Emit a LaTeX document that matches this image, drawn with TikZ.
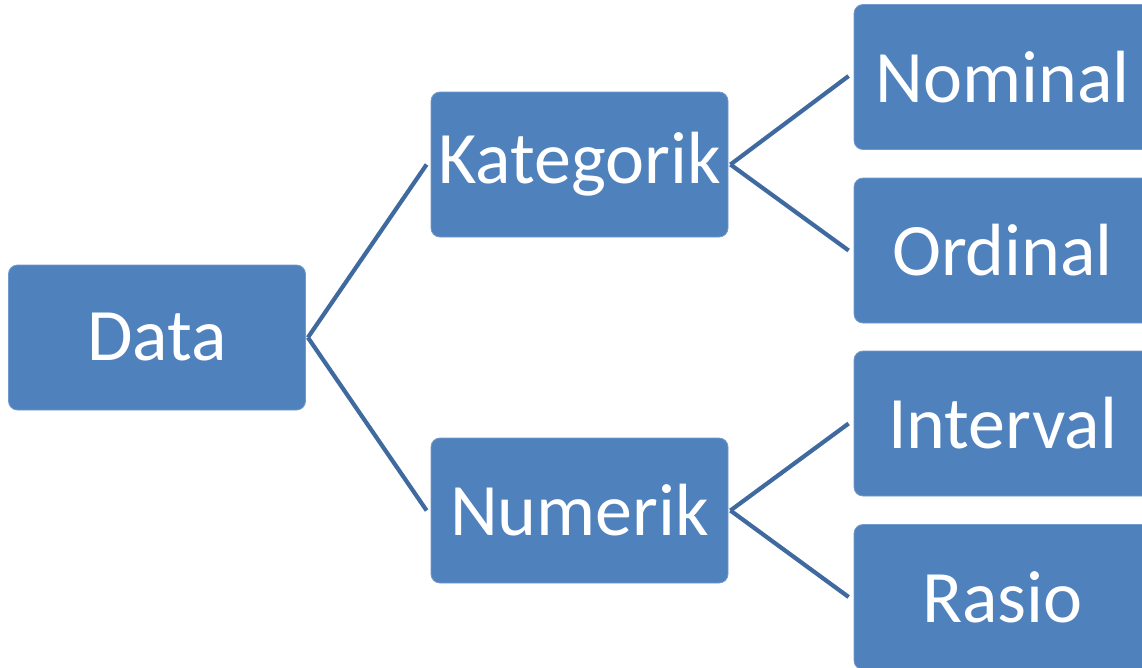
\documentclass[tikz,border=0pt]{standalone}
\usepackage{fontspec}
\setmainfont{Carlito}
\definecolor{boxblue}{HTML}{4F81BD}
\definecolor{linkblue}{HTML}{3F6A9F}
\begin{document}
\begin{tikzpicture}[x=1pt,y=-1pt,
  item/.style={fill=boxblue, draw=boxblue!80!white, line width=0.8pt,
    rounded corners=9pt, minimum width=297pt, minimum height=145pt,
    inner sep=0pt, text=white, font=\fontsize{74}{88}\selectfont},
  link/.style={draw=linkblue, line width=4.2pt}]
\useasboundingbox (0,0) rectangle (1142,667);
\clip (0,0) rectangle (1142,667);
% boxes (centres)
\node[item] (data) at (157,337.5) {Data};
\node[item] (kat)  at (579.5,164.5) {Kategorik};
\node[item] (num)  at (579.5,510.5) {Numerik};
\node[item] (nom)  at (1002.5,77) {Nominal};
\node[item] (ord)  at (1002.5,250.5) {Ordinal};
\node[item] (intv) at (1002.5,423.5) {Interval};
\node[item] (ras)  at (1002.5,597) {Rasio};
% connectors
\draw[link] ([xshift=2pt]data.east) -- ([xshift=-4pt]kat.west);
\draw[link] ([xshift=2pt]data.east) -- ([xshift=-4pt]num.west);
\draw[link] ([xshift=2pt]kat.east) -- ([xshift=-5pt,yshift=1pt]nom.west);
\draw[link] ([xshift=2pt]kat.east) -- ([xshift=-5pt]ord.west);
\draw[link] ([xshift=2pt]num.east) -- ([xshift=-5pt]intv.west);
\draw[link] ([xshift=2pt]num.east) -- ([xshift=-5pt]ras.west);
\end{tikzpicture}
\end{document}
